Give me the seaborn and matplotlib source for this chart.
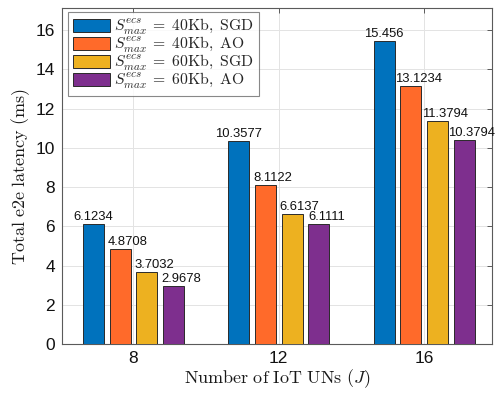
import matplotlib
matplotlib.use("Agg")
import matplotlib.pyplot as plt
import seaborn as sns
import pandas as pd

# Data: total end-to-end latency (ms) per number of IoT UNs
num_uns = ["8", "12", "16"]
series_labels = [
    r"$S_{max}^{ecs}\;=\;40\mathrm{Kb,\ SGD}$",
    r"$S_{max}^{ecs}\;=\;40\mathrm{Kb,\ AO}$",
    r"$S_{max}^{ecs}\;=\;60\mathrm{Kb,\ SGD}$",
    r"$S_{max}^{ecs}\;=\;60\mathrm{Kb,\ AO}$",
]
lat_40_sgd = [6.1234, 10.3577, 15.456]
lat_40_ao = [4.8708, 8.1122, 13.1234]
lat_60_sgd = [3.7032, 6.6137, 11.3794]
lat_60_ao = [2.9678, 6.1111, 10.3794]
y_ticks = [0, 2, 4, 6, 8, 10, 12, 14, 16]

colors = ["#0072BD", "#FF6A2A", "#EDB120", "#7E2F8E"]

all_series = [lat_40_sgd, lat_40_ao, lat_60_sgd, lat_60_ao]
rows = []
for lab, vals in zip(series_labels, all_series):
    for j, v in zip(num_uns, vals):
        rows.append({"J": j, "config": lab, "latency": v})
df = pd.DataFrame(rows)

sns.set_theme(style="white")
plt.rcParams["font.family"] = ["Liberation Sans", "DejaVu Sans"]
plt.rcParams["mathtext.fontset"] = "cm"

fig = plt.figure(figsize=(4.96, 3.95), dpi=100)
ax = fig.add_axes([0.125, 0.128, 0.867, 0.851])

sns.barplot(data=df, x="J", y="latency", hue="config", order=num_uns,
            hue_order=series_labels, palette=colors, width=0.734, gap=0.21,
            saturation=1, edgecolor="#2a2a2a", linewidth=0.7, ax=ax,
            errorbar=None, zorder=3)

# value labels above each bar
dx_pts = [0, 5.4, 5.4, 5.4]
for k, (cont, vals) in enumerate(zip(ax.containers, all_series)):
    for bar, v in zip(cont, vals):
        ax.annotate(f"{v:g}", (bar.get_x() + bar.get_width() / 2, bar.get_height()),
                    xytext=(dx_pts[k], 0.8), textcoords="offset points",
                    ha="center", va="bottom", fontsize=9.4, color="#111111",
                    zorder=5, annotation_clip=False)

ax.set_xlim(-0.491, 2.467)
ax.set_ylim(0, 17.1)
ax.set_yticks(y_ticks)
ax.set_yticklabels([str(t) for t in y_ticks])

ax.grid(True, color="#e3e3e3", linewidth=0.7, zorder=0)
ax.set_axisbelow(True)
for s in ax.spines.values():
    s.set_visible(True)
    s.set_color("#5a5a5a")
    s.set_linewidth(0.8)
ax.tick_params(axis="both", direction="in", length=3.5, width=0.7,
               colors="#5a5a5a", labelcolor="#111111", labelsize=12.5,
               top=True, right=True, pad=5)

ax.set_xlabel(r"$\mathrm{Number\ of\ IoT\ UNs}\ (J)$", fontsize=13, color="#1a1a1a",
              labelpad=1)
ax.set_ylabel(r"$\mathrm{Total\ e2e\ latency\ (ms)}$", fontsize=13, color="#1a1a1a",
              labelpad=3)

leg = ax.legend(loc="upper left", bbox_to_anchor=(0.014, 0.989), fontsize=11.3,
                frameon=True, fancybox=False, edgecolor="#6a6a6a",
                handlelength=2.4, handleheight=0.85, handletextpad=0.25,
                labelspacing=-0.12, borderpad=0.3, borderaxespad=0.0)
leg.get_frame().set_linewidth(0.8)
for h in leg.legend_handles:
    h.set_edgecolor("#2a2a2a")
    h.set_linewidth(0.7)

fig.savefig("out.png", dpi=100)
